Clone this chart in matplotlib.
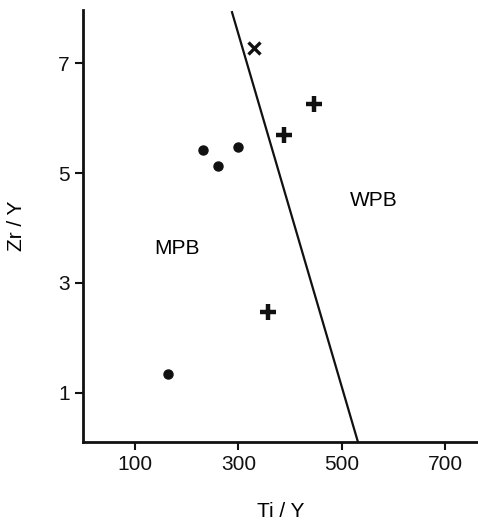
import matplotlib
matplotlib.use('Agg')
import matplotlib.pyplot as plt

plt.rcParams['font.family'] = ['Liberation Sans', 'DejaVu Sans']

# data
dots_x = [231, 261, 300, 163]
dots_y = [5.42, 5.12, 5.47, 1.33]
plus_x = [446, 388, 358]
plus_y = [6.26, 5.69, 2.46]
cross_x = [331]
cross_y = [7.28]
line_x = [287, 531]
line_y = [7.95, 0.1]
xticks = [100, 300, 500, 700]
yticks = [1, 3, 5, 7]

fig = plt.figure(figsize=(4.78, 5.21), dpi=100)
ax = fig.add_axes([0.174, 0.1516, 0.826, 0.8292])

ax.plot(line_x, line_y, color='#111111', lw=1.6, solid_capstyle='butt')
ax.plot(dots_x, dots_y, 'o', color='#111111', ms=6.5, ls='none')
ax.plot(plus_x, plus_y, '+', color='#111111', ms=11, mew=3.2, ls='none')
ax.plot(cross_x, cross_y, 'x', color='#111111', ms=8.5, mew=2.4, ls='none')

ax.text(181, 3.63, 'MPB', fontsize=15, ha='center', va='center')
ax.text(561, 4.5, 'WPB', fontsize=15, ha='center', va='center')

ax.set_xlim(0, 763)
ax.set_ylim(0.1, 7.97)
ax.set_xticks(xticks)
ax.set_yticks(yticks)
ax.tick_params(labelsize=15, width=1.5, length=6, direction='out', colors='#111111')
for s in ['top', 'right']:
    ax.spines[s].set_visible(False)
for s in ['left', 'bottom']:
    ax.spines[s].set_linewidth(2)
    ax.spines[s].set_color('#111111')

ax.set_xlabel('Ti / Y', fontsize=15, labelpad=20)
ax.set_ylabel('Zr / Y', fontsize=15, labelpad=23)

fig.savefig('out.png', dpi=100)
